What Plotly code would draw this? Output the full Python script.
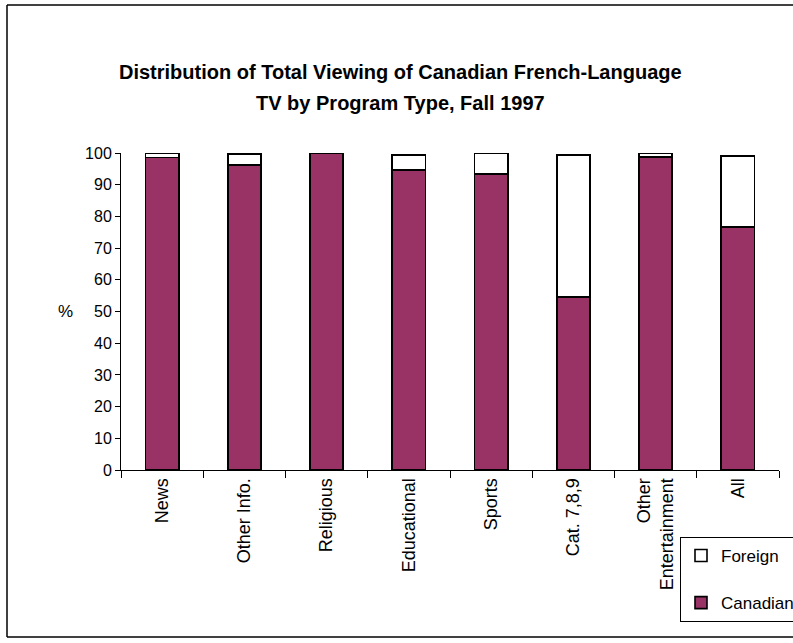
import plotly.graph_objects as go

categories = ["News", "Other Info.", "Religious", "Educational", "Sports",
              "Cat. 7,8,9", "Other<br>Entertainment", "All"]
canadian = [98.6, 96.2, 99.9, 94.7, 93.4, 54.6, 98.7, 76.7]
foreign = [1.4, 3.5, 0.1, 4.7, 6.6, 44.7, 1.3, 22.4]
y_ticks = [0, 10, 20, 30, 40, 50, 60, 70, 80, 90, 100]
title_lines = ["Distribution of Total Viewing of Canadian French-Language",
               "TV by Program Type, Fall 1997"]

FONT = "Liberation Sans, Arial, sans-serif"
PLUM = "#993366"

fig = go.Figure()
fig.add_trace(go.Bar(
    x=categories, y=canadian, name="Canadian", legendgroup="c", legendrank=2,
    marker=dict(color=PLUM, line=dict(color="black", width=1.6)),
))
fig.add_trace(go.Bar(
    x=categories, y=foreign, name="Foreign", legendgroup="f", legendrank=1,
    marker=dict(color="white", line=dict(color="black", width=1.6)),
))

L, R, T, B = 121, 14, 153, 173
W, H = 793, 643
pw, ph = W - L - R, H - T - B

def px_x(p):
    return (p - L) / pw

def px_y(p):
    return (H - B - p) / ph

fig.update_layout(
    width=W, height=H,
    margin=dict(l=L, r=R, t=T, b=B, autoexpand=False),
    paper_bgcolor="white", plot_bgcolor="white",
    barmode="stack", bargap=0.595,
    font=dict(family=FONT, size=16, color="black"),
    xaxis=dict(
        showline=True, linecolor="black", linewidth=1,
        ticks="outside", tickson="boundaries", ticklen=7, tickcolor="black",
        tickangle=-90, tickfont=dict(family=FONT, size=18, color="black"),
        showgrid=False, zeroline=False,
    ),
    yaxis=dict(
        range=[0, 100], tickvals=y_ticks,
        showline=True, linecolor="black", linewidth=1,
        ticks="outside", ticklen=5, tickcolor="black",
        tickfont=dict(family=FONT, size=16, color="black"),
        showgrid=False, zeroline=False,
    ),
    legend=dict(
        x=px_x(680), y=px_y(537), xanchor="left", yanchor="top",
        bordercolor="black", borderwidth=1, bgcolor="white",
        traceorder="grouped", tracegroupgap=22,
        font=dict(family=FONT, size=17, color="black"),
        itemwidth=30,
    ),
    showlegend=True,
)

for line, ypx in zip(title_lines, [72, 103]):
    fig.add_annotation(
        text="<b>" + line + "</b>", xref="paper", yref="paper",
        x=px_x(400), y=px_y(ypx), showarrow=False,
        xanchor="center", yanchor="middle",
        font=dict(family=FONT, size=20, color="black"),
    )

fig.add_annotation(
    text="%", xref="paper", yref="paper", x=px_x(65), y=0.5,
    showarrow=False, xanchor="center", yanchor="middle",
    font=dict(family=FONT, size=17, color="black"),
)

# outer chart frame (right edge falls outside the page)
frame = dict(color="black", width=1.5)
fig.add_shape(type="line", xref="paper", yref="paper",
              x0=px_x(7), x1=px_x(800), y0=px_y(5), y1=px_y(5), line=frame)
fig.add_shape(type="line", xref="paper", yref="paper",
              x0=px_x(7), x1=px_x(7), y0=px_y(5), y1=px_y(637), line=frame)
fig.add_shape(type="line", xref="paper", yref="paper",
              x0=px_x(7), x1=px_x(800), y0=px_y(637), y1=px_y(637), line=frame)

fig.write_html("out.html")
